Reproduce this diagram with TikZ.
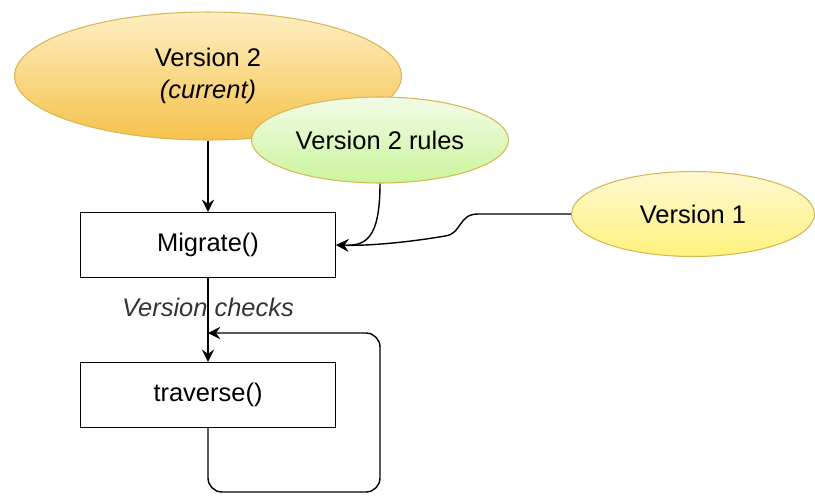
\documentclass[tikz,border=0pt]{standalone}
\usepackage{fontspec}
\setmainfont{Liberation Sans}
\usetikzlibrary{shapes.geometric,arrows.meta}
\definecolor{ovalline}{HTML}{D6B656}
\definecolor{curtop}{HTML}{FDEFC2}
\definecolor{curbot}{HTML}{F6C24C}
\definecolor{ruletop}{HTML}{F2FBE6}
\definecolor{rulebot}{HTML}{CBF59C}
\definecolor{oldtop}{HTML}{FFF8D2}
\definecolor{oldbot}{HTML}{FFF27C}
\definecolor{labelgray}{HTML}{333333}
\begin{document}
\begin{tikzpicture}[x=0.02cm,y=-0.02cm,
		every node/.style={font=\fontsize{14.5}{18}\selectfont},
		oval/.style={ellipse,draw=ovalline,line width=0.6pt,inner sep=0pt},
		box/.style={draw,line width=0.8pt,minimum width=5.1cm,minimum height=1.3cm},
		arr/.style={-{Stealth[length=7pt,width=7pt,inset=2.5pt]},line width=0.8pt}]
				\useasboundingbox (0,0) rectangle (815,495);
				\node[oval,top color=curtop,bottom color=curbot,minimum width=7.74cm,minimum height=2.56cm,align=center] (cur) at (208,76) {Version 2\\\textit{(current)}};
				\node[oval,top color=ruletop,bottom color=rulebot,minimum width=5.14cm,minimum height=1.72cm] (rules) at (380,140) {Version 2 rules};
				\node[oval,top color=oldtop,bottom color=oldbot,minimum width=4.86cm,minimum height=1.7cm] (old) at (693,214) {Version 1};
				\node[box] (migrate) at (208,245) {Migrate()};
				\node[box] (trav) at (208,395) {traverse()};
				\coordinate (back) at (208,333);

				\draw[arr] (cur) -- (migrate);
				\draw[arr] (rules.south) .. controls (380,240) and (365,246) .. (migrate.east);
				\draw[arr] (old.west) -- (478,214) .. controls (458,214) and (462,234) .. (445,236) .. controls (410,242) and (370,246) .. (migrate.east);
				\draw[arr] (migrate) -- node[pos=0.35,text=labelgray,font=\fontsize{14.5}{18}\selectfont\itshape] {Version checks} (trav);
				\draw[arr,rounded corners=8pt] (trav.south) -- (208,492) -- (380,492) -- (380,333) -- (back);

			\end{tikzpicture}
\end{document}
